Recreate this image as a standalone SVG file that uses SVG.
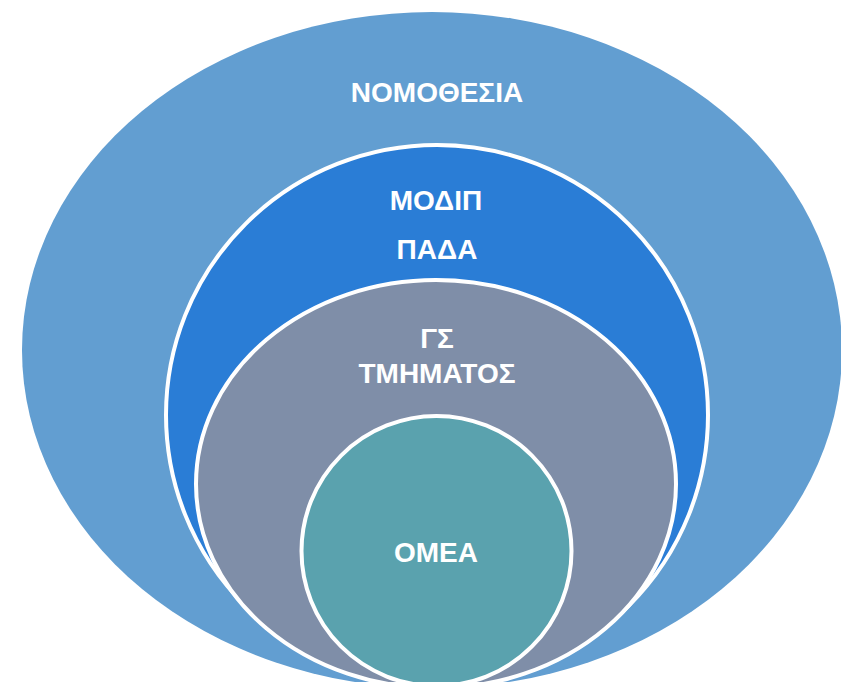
<svg xmlns="http://www.w3.org/2000/svg" width="841" height="682" viewBox="0 0 841 682">
<style>
.lbl{font-family:"Liberation Sans",Arial,sans-serif;font-weight:bold;font-size:28px;fill:#ffffff;text-anchor:middle}
.ring{stroke:#ffffff;stroke-width:4}
</style>
<rect width="841" height="682" fill="#ffffff"/>
<g id="nomothesia">
<ellipse cx="432" cy="350" rx="410" ry="338" fill="#629ED1"/>
<text class="lbl" x="437" y="102">ΝΟΜΟΘΕΣΙΑ</text>
</g>
<g id="modip">
<ellipse class="ring" cx="437" cy="415" rx="271" ry="270" fill="#2A7DD6"/>
<text class="lbl" x="436" y="210">ΜΟΔΙΠ</text>
<text class="lbl" x="437" y="259">ΠΑΔΑ</text>
</g>
<g id="gs">
<ellipse class="ring" cx="436" cy="484" rx="240" ry="204" fill="#7F8EA8"/>
<text class="lbl" x="437" y="348">ΓΣ</text>
<text class="lbl" x="437" y="383">ΤΜΗΜΑΤΟΣ</text>
</g>
<g id="omea">
<ellipse class="ring" cx="436.5" cy="551" rx="135" ry="135" fill="#5AA2AE"/>
<text class="lbl" x="436" y="562">ΟΜΕΑ</text>
</g>
<g id="connectors"/>
</svg>
